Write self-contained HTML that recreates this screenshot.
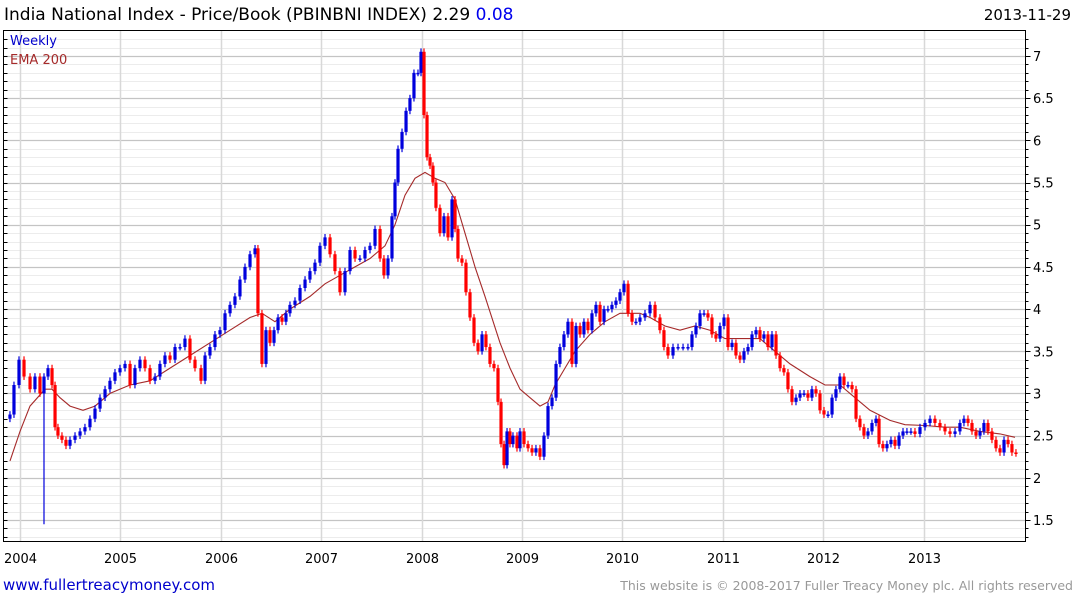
<!DOCTYPE html>
<html><head><meta charset="utf-8"><style>
html,body{margin:0;padding:0;background:#fff;width:1075px;height:600px;overflow:hidden}
svg{display:block}
text{font-family:"DejaVu Sans","Liberation Sans",sans-serif}
</style></head><body>
<svg id="chart" width="1075" height="600" viewBox="0 0 1075 600" xmlns="http://www.w3.org/2000/svg">
<text x="4" y="20" font-size="17" fill="#000">India National Index - Price/Book (PBINBNI INDEX) 2.29 <tspan fill="#0000ee">0.08</tspan></text>
<text x="1071" y="20" font-size="15" text-anchor="end" fill="#000">2013-11-29</text>
<g id="grid"></g>
<g id="ema"></g>
<g id="bars"></g>
<g id="axes"></g>
<rect x="3.5" y="30.5" width="1022" height="511" fill="none" stroke="#000" stroke-width="1"/>
<text x="10" y="45" font-size="13" fill="#0000cc">Weekly</text>
<text x="10" y="64" font-size="13" fill="#a52a2a">EMA 200</text>
<text x="3" y="590" font-size="15" fill="#0000cc">www.fullertreacymoney.com</text>
<text x="1073" y="590" font-size="12.5" text-anchor="end" fill="#999">This website is © 2008-2017 Fuller Treacy Money plc. All rights reserved</text>
</svg>
<script>
// years elapsed since 2004-01-01
const priceTimes = [-0.100,-0.060,-0.010,0.040,0.100,0.149,0.199,0.239,0.279,0.319,0.349,0.378,0.418,0.458,0.498,0.548,0.598,0.647,0.697,0.747,0.797,0.847,0.896,0.946,0.996,1.046,1.096,1.145,1.195,1.245,1.295,1.345,1.394,1.444,1.494,1.544,1.594,1.643,1.693,1.743,1.803,1.843,1.892,1.942,1.992,2.042,2.092,2.141,2.191,2.241,2.291,2.341,2.370,2.410,2.450,2.490,2.530,2.570,2.610,2.649,2.689,2.739,2.789,2.839,2.888,2.938,2.988,3.038,3.088,3.137,3.187,3.237,3.287,3.337,3.386,3.436,3.486,3.536,3.586,3.625,3.665,3.705,3.735,3.765,3.805,3.845,3.884,3.924,3.964,3.994,4.024,4.054,4.084,4.113,4.143,4.183,4.223,4.263,4.303,4.333,4.362,4.402,4.442,4.482,4.522,4.562,4.602,4.641,4.681,4.721,4.761,4.791,4.821,4.851,4.880,4.910,4.950,4.980,5.020,5.060,5.100,5.139,5.179,5.219,5.259,5.299,5.339,5.378,5.418,5.458,5.498,5.538,5.578,5.617,5.657,5.697,5.737,5.777,5.817,5.856,5.896,5.936,5.976,6.016,6.056,6.096,6.135,6.175,6.225,6.275,6.325,6.374,6.414,6.454,6.504,6.554,6.604,6.653,6.693,6.733,6.773,6.813,6.852,6.892,6.932,6.972,7.012,7.052,7.092,7.131,7.171,7.211,7.251,7.291,7.331,7.370,7.410,7.450,7.490,7.530,7.570,7.609,7.649,7.689,7.729,7.769,7.809,7.848,7.888,7.928,7.968,8.008,8.048,8.088,8.127,8.167,8.207,8.247,8.287,8.327,8.366,8.406,8.446,8.486,8.526,8.556,8.595,8.635,8.675,8.715,8.755,8.795,8.834,8.874,8.914,8.964,9.014,9.064,9.113,9.163,9.213,9.263,9.313,9.362,9.402,9.442,9.482,9.522,9.562,9.601,9.641,9.681,9.721,9.761,9.801,9.841,9.880,9.920];
const closes = [2.75,3.1,3.4,3.2,3.05,3.2,3.0,3.2,3.3,3.1,2.6,2.5,2.45,2.38,2.45,2.5,2.55,2.6,2.7,2.82,2.95,3.05,3.15,3.25,3.3,3.35,3.1,3.3,3.4,3.3,3.15,3.2,3.35,3.45,3.4,3.55,3.55,3.65,3.4,3.3,3.15,3.45,3.55,3.7,3.75,3.95,4.05,4.15,4.35,4.5,4.65,4.72,3.95,3.35,3.75,3.6,3.75,3.9,3.85,3.95,4.05,4.1,4.25,4.35,4.45,4.55,4.75,4.85,4.65,4.45,4.2,4.45,4.7,4.6,4.6,4.7,4.75,4.95,4.6,4.4,4.6,5.1,5.5,5.9,6.1,6.35,6.5,6.8,6.8,7.05,6.3,5.8,5.7,5.5,5.2,4.9,5.1,4.85,5.3,4.95,4.6,4.55,4.2,3.9,3.6,3.5,3.7,3.55,3.35,3.3,2.9,2.4,2.15,2.55,2.4,2.5,2.35,2.55,2.4,2.35,2.3,2.35,2.25,2.5,2.85,2.95,3.35,3.55,3.7,3.85,3.35,3.8,3.7,3.85,3.75,3.95,4.05,3.85,4.0,4.0,4.05,4.1,4.2,4.3,3.95,3.85,3.85,3.9,3.95,4.05,3.9,3.75,3.55,3.45,3.55,3.55,3.55,3.55,3.7,3.8,3.95,3.95,3.9,3.7,3.65,3.8,3.9,3.55,3.6,3.45,3.4,3.5,3.55,3.7,3.75,3.65,3.7,3.55,3.7,3.45,3.3,3.25,3.05,2.9,2.95,3.0,3.0,2.95,3.05,3.0,2.8,2.75,2.75,2.95,3.05,3.2,3.1,3.1,3.05,2.7,2.6,2.5,2.55,2.65,2.7,2.4,2.35,2.4,2.45,2.38,2.5,2.55,2.55,2.55,2.52,2.6,2.65,2.7,2.65,2.6,2.55,2.52,2.55,2.65,2.7,2.65,2.55,2.5,2.55,2.65,2.55,2.45,2.35,2.3,2.45,2.4,2.3,2.29];
const spikeLowTimes = [0.239];
const spikeLowValues = [1.45];
const emaTimes = [-0.100,0,0.100,0.249,0.319,0.398,0.498,0.627,0.747,0.896,1.096,1.295,1.494,1.693,1.892,2.092,2.291,2.410,2.540,2.689,2.888,3.038,3.187,3.337,3.486,3.635,3.735,3.835,3.934,4.034,4.133,4.233,4.333,4.432,4.532,4.631,4.781,4.880,4.980,5.080,5.179,5.259,5.329,5.428,5.528,5.677,5.827,5.976,6.175,6.275,6.424,6.574,6.723,6.872,7.022,7.171,7.370,7.520,7.669,7.868,8.018,8.167,8.317,8.466,8.665,8.815,9.014,9.213,9.362,9.562,9.761,9.910];
const emaValues = [2.2,2.55,2.85,3.05,3.05,2.95,2.85,2.8,2.85,3.0,3.1,3.15,3.3,3.45,3.6,3.75,3.9,3.95,3.85,4.0,4.15,4.3,4.4,4.5,4.6,4.75,5.0,5.35,5.55,5.62,5.55,5.5,5.3,4.9,4.5,4.15,3.6,3.3,3.05,2.95,2.85,2.9,3.1,3.3,3.5,3.7,3.85,3.95,3.95,3.9,3.8,3.75,3.8,3.75,3.65,3.65,3.65,3.5,3.35,3.2,3.1,3.1,2.95,2.8,2.68,2.63,2.62,2.6,2.6,2.55,2.52,2.48];
const yTicks = [1.5,2,2.5,3,3.5,4,4.5,5,5.5,6,6.5,7];
const yearLabels = ["2004","2005","2006","2007","2008","2009","2010","2011","2012","2013"];

const NS="http://www.w3.org/2000/svg";
const X0=20, PXY=100.4, Y7=56, PXV=84.36;
function xs(t){return X0+t*PXY;}
function ys(v){return Y7+(7-v)*PXV;}
function mk(tag,attrs,parent){const e=document.createElementNS(NS,tag);for(const k in attrs)e.setAttribute(k,attrs[k]);parent.appendChild(e);return e;}
const grid=document.getElementById('grid'),axes=document.getElementById('axes'),bars=document.getElementById('bars'),emaG=document.getElementById('ema');
const L=3.5,R=1025.5,T=30.5,B=541.5;
for(let k=13;k<=72;k++){const v=k/10;const y=Math.round(ys(v))+0.5;if(y<T||y>B)continue;
 const major=(k%5===0);
 const ln=mk('line',{x1:L,x2:R,y1:y,y2:y,stroke:major?'#c4c4c4':'#ececec','stroke-width':major?1.3:1},grid);
 
 
 const t1=mk('line',{x1:L,x2:L+4,y1:y,y2:y,stroke:'#000'},axes);
 
 
 const t2=mk('line',{x1:R,x2:R+(major?5:3),y1:y,y2:y,stroke:'#000'},axes);
 
 
}
yTicks.forEach(v=>{const t=mk('text',{x:1033,y:ys(v)+5,'font-size':13,fill:'#000'},axes);t.textContent=String(v);
 
 });
yearLabels.forEach((lab,i)=>{const x=Math.round(xs(i))+0.5;
 const g=mk('line',{x1:x,x2:x,y1:T,y2:B,stroke:'#d8d8d8','stroke-width':1.5},grid);
 
 
 const t=mk('text',{x:x,y:563,'font-size':13,'text-anchor':'middle',fill:'#000'},axes);t.textContent=lab;
 
 });
let d='';emaTimes.forEach((t,i)=>{d+=(i?'L':'M')+xs(t).toFixed(1)+' '+ys(emaValues[i]).toFixed(1);});
const p=mk('path',{d:d,fill:'none',stroke:'#a52a2a','stroke-width':1.1},emaG);


closes.forEach((c,i)=>{
 const o=i?closes[i-1]:c-0.05;const up=c>=o;const col=up?'#0000dd':'#ff0000';
 const x=xs(priceTimes[i]);let hi=Math.max(o,c)+0.04,lo=Math.min(o,c)-0.04;
 const si=spikeLowTimes.indexOf(priceTimes[i]);if(si>=0)lo=spikeLowValues[si];
 const w=mk('line',{x1:x,x2:x,y1:ys(hi),y2:ys(lo),stroke:col,'stroke-width':1.2},bars);
 
 
 const top=ys(Math.max(o,c)),bot=ys(Math.min(o,c));
 const r=mk('rect',{x:x-1.6,y:top,width:3.2,height:Math.max(1.5,bot-top),fill:col},bars);
 
 
});
</script>
</body></html>
